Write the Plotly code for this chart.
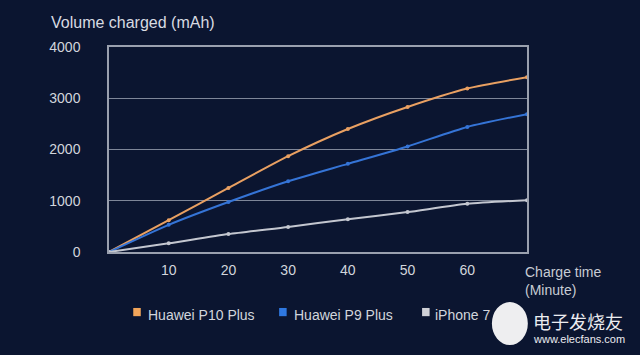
import plotly.graph_objects as go

minutes = [0, 10, 20, 30, 40, 50, 60, 70]
p10_plus = [0, 620, 1250, 1870, 2400, 2830, 3190, 3410]
p9_plus = [0, 530, 975, 1380, 1720, 2060, 2440, 2690]
iphone7 = [0, 170, 350, 490, 640, 780, 940, 1010]

series_names = ["Huawei P10 Plus", "Huawei P9 Plus", "iPhone 7"]
series_values = [p10_plus, p9_plus, iphone7]
line_colors = ["#e9a062", "#3574d6", "#c4c7d0"]
legend_colors = ["#f2a55a", "#2f78e0", "#cfd0d6"]

x_ticks = [10, 20, 30, 40, 50, 60]
y_ticks = [0, 1000, 2000, 3000, 4000]

fig = go.Figure()
for name, vals, lc in zip(series_names, series_values, line_colors):
    fig.add_trace(go.Scatter(
        x=minutes, y=vals, name=name, mode="lines+markers",
        line=dict(color=lc, width=2, shape="spline", smoothing=0.6),
        marker=dict(color=lc, size=4),
        showlegend=False,
    ))

bg = "#0b1530"
fig.update_layout(
    width=640, height=355,
    margin=dict(l=109, r=113, t=47, b=103),
    paper_bgcolor=bg, plot_bgcolor=bg,
    font=dict(family="Liberation Sans, Arial, sans-serif", color="#d2d5dc", size=13),
    showlegend=False,
    xaxis=dict(range=[0, 70], tickvals=x_ticks, showgrid=False,
               showline=True, linecolor="#9aa0ae", linewidth=1.5, mirror=True,
               ticks="outside", ticklen=4, tickcolor="rgba(0,0,0,0)",
               zeroline=False, tickfont=dict(size=14)),
    yaxis=dict(range=[0, 4000], tickvals=y_ticks, showgrid=True,
               gridcolor="#7e8698", gridwidth=1,
               showline=True, linecolor="#9aa0ae", linewidth=1.5, mirror=True,
               ticks="outside", ticklen=24, tickcolor="rgba(0,0,0,0)",
               zeroline=False, tickfont=dict(size=14)),
)

# manual legend (square swatch + label)
legend_sq_x = [0.067, 0.416, 0.758]
legend_txt_x = [0.089, 0.438, 0.775]
for name, col, sx, tx in zip(series_names, legend_colors, legend_sq_x, legend_txt_x):
    fig.add_shape(type="rect", xref="paper", yref="paper",
                  x0=sx - 0.009, x1=sx + 0.009, y0=-0.293 - 0.02, y1=-0.293 + 0.02,
                  fillcolor=col, line=dict(width=0))
    fig.add_annotation(text=name, xref="paper", yref="paper",
                       x=tx, y=-0.305, xanchor="left", yanchor="middle",
                       showarrow=False, font=dict(size=14, color="#d2d5dc"))

fig.add_annotation(text="Volume charged (mAh)", xref="paper", yref="paper",
                   x=-0.143, y=1.12, xanchor="left", yanchor="middle",
                   showarrow=False, font=dict(size=16, color="#d8dbe2"))
fig.add_annotation(text="Charge time<br>(Minute)", xref="paper", yref="paper",
                   x=0.99, y=-0.14, xanchor="left", yanchor="middle", align="left",
                   showarrow=False, font=dict(size=14, color="#c8ccd4"))

# watermark
fig.add_shape(type="circle", xref="paper", yref="paper",
              x0=0.916, x1=1.002, y0=-0.454, y1=-0.244,
              fillcolor="#eeeef0", line=dict(width=0))
fig.add_annotation(text="电子发烧友", xref="paper", yref="paper",
                   x=1.01, y=-0.335, xanchor="left", yanchor="middle",
                   showarrow=False, font=dict(size=18, color="#ececf0",
                                              family="Noto Sans CJK SC"))
fig.add_annotation(text="www.elecfans.com", xref="paper", yref="paper",
                   x=1.01, y=-0.425, xanchor="left", yanchor="middle",
                   showarrow=False, font=dict(size=11, color="#ececf0"))

fig.write_html("out.html", config={"displayModeBar": False},
               post_script="document.body.style.margin='0';document.body.style.background='#0b1530';")
